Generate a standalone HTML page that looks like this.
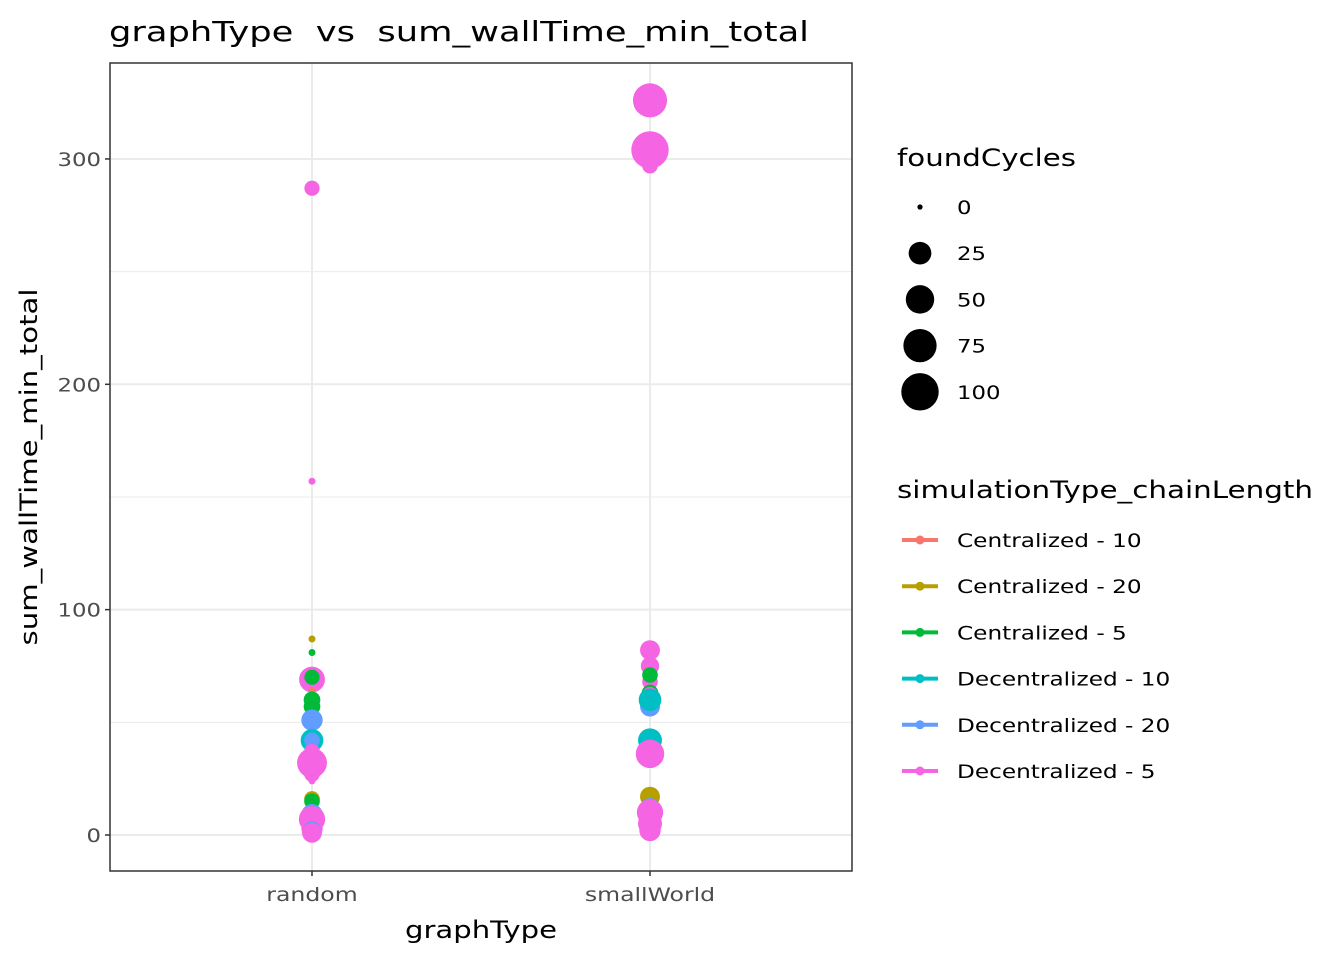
<!DOCTYPE html>
<html><head><meta charset="utf-8"><style>
body{margin:0;background:#fff;}
svg{display:block;font-family:"DejaVu Sans","Liberation Sans",sans-serif;}
text{white-space:pre;}
</style></head><body>
<svg id="chart" width="1344" height="960">
<rect width="1344" height="960" fill="#fff"/>
<text x="109" y="41" font-size="28" fill="#000" textLength="700" lengthAdjust="spacingAndGlyphs" xml:space="preserve">graphType  vs  sum_wallTime_min_total</text>
<g id="grid"></g>
<g id="points"></g>
<rect x="110" y="63" width="742" height="808" fill="none" stroke="#333" stroke-width="1.5"/>
<g id="axes"></g>
<text x="481" y="938" font-size="24" text-anchor="middle" textLength="152" lengthAdjust="spacingAndGlyphs">graphType</text>
<text transform="translate(37,467) rotate(-90)" font-size="24" text-anchor="middle" textLength="357" lengthAdjust="spacingAndGlyphs">sum_wallTime_min_total</text>
<g id="legend"></g>
</svg>
<script>
const categories=["random","smallWorld"];
const seriesNames=["Centralized - 10","Centralized - 20","Centralized - 5","Decentralized - 10","Decentralized - 20","Decentralized - 5"];
const seriesColors=["#F8766D","#B79F00","#00BA38","#00BFC4","#619CFF","#F564E3"];
const yTicks=[0,100,200,300];
const sizeBreaks=[0,25,50,75,100];
// points: category index, series index, value, foundCycles
const ptCategory=[0,0,0,0,0,0,0,0,0,0,0,0,0,0,0,0,0,0,0,0,0,0,0,0, 1,1,1,1,1,1,1,1,1,1,1,1,1,1,1,1,1,1,1];
const ptSeries=[5,5,1,2,5,2,0,2,2,4,3,4,5,5,5,5,1,2,4,2,5,5,4,5, 5,5,5,5,5,5,2,2,5,4,2,3,3,5,1,4,5,5,5];
const ptValue=[287,157,87,81,69,70,64,60,57,51,42,42,37,32,27,24,16,15,9,9,7,3,2,1, 326,304,297,82,75,68,71,63,62,57,60,60,42,36,17,12,10,5,2];
const ptCycles=[1,0,0,0,38,1,0,5,5,20,25,2,2,57,2,0,2,2,20,5,40,20,10,15, 80,100,2,15,10,2,2,5,5,15,5,25,30,50,15,15,40,30,20];

const NS="http://www.w3.org/2000/svg";
const X0=110,X1=852,Y0=63,Y1=871;
function xScale(i){return 312+i*338;}
function yScale(v){return 835-v*2.2535;}
function rScale(c){return c<=0?3.5:Math.sqrt(55+2.95*c);}
function mk(tag,attrs,parent){const e=document.createElementNS(NS,tag);for(const k in attrs)e.setAttribute(k,attrs[k]);parent.appendChild(e);return e;}
function stretch(el,ratio){const w=el.getComputedTextLength();el.setAttribute('textLength',(w*ratio).toFixed(1));el.setAttribute('lengthAdjust','spacingAndGlyphs');}
const grid=document.getElementById('grid'),axes=document.getElementById('axes'),pts=document.getElementById('points'),leg=document.getElementById('legend');
for(let i=0;i<yTicks.length;i++){
  const y=yScale(yTicks[i]);
  const l=mk('line',{x1:X0,x2:X1,y1:y,y2:y,stroke:'#ebebeb','stroke-width':2},grid);
  
  
  if(i<yTicks.length-1){const ym=yScale((yTicks[i]+yTicks[i+1])/2);
    const m=mk('line',{x1:X0,x2:X1,y1:ym,y2:ym,stroke:'#ebebeb','stroke-width':1},grid);
    
    }
  const t=mk('line',{x1:X0-5,x2:X0,y1:y,y2:y,stroke:'#333','stroke-width':1.5},axes);
  
  
  const tx=mk('text',{x:X0-9,y:y+7,'font-size':19,'text-anchor':'end',fill:'#4d4d4d'},axes);tx.textContent=yTicks[i];
  
  
  stretch(tx,1.2);
}
for(let i=0;i<categories.length;i++){
  const x=xScale(i);
  const l=mk('line',{x1:x,x2:x,y1:Y0,y2:Y1,stroke:'#ebebeb','stroke-width':2},grid);
  
  
  const t=mk('line',{x1:x,x2:x,y1:Y1,y2:Y1+5,stroke:'#333','stroke-width':1.5},axes);
  
  
  const tx=mk('text',{x:x,y:Y1+30,'font-size':19,'text-anchor':'middle',fill:'#4d4d4d'},axes);tx.textContent=categories[i];
  
  
  stretch(tx,1.24);
}
for(let i=0;i<ptValue.length;i++){
  const c=mk('circle',{cx:xScale(ptCategory[i]),cy:yScale(ptValue[i]),r:rScale(ptCycles[i]),fill:seriesColors[ptSeries[i]]},pts);
  
  
}
// legend
let t=mk('text',{x:897,y:166,'font-size':24},leg);t.textContent='foundCycles';


t.setAttribute('textLength','179');t.setAttribute('lengthAdjust','spacingAndGlyphs');
for(let i=0;i<sizeBreaks.length;i++){
  const y=207+i*46.2;
  const c=mk('circle',{cx:920,cy:y,r:rScale(sizeBreaks[i])*(sizeBreaks[i]?1:0.75),fill:'#000'},leg);
  
  
  const tx=mk('text',{x:957,y:y+7,'font-size':19},leg);tx.textContent=sizeBreaks[i];
  
  
  stretch(tx,1.2);
}
t=mk('text',{x:897,y:498,'font-size':24},leg);t.textContent='simulationType_chainLength';


t.setAttribute('textLength','416');t.setAttribute('lengthAdjust','spacingAndGlyphs');
for(let i=0;i<seriesNames.length;i++){
  const y=540+i*46.2;
  const l=mk('line',{x1:902,x2:938,y1:y,y2:y,stroke:seriesColors[i],'stroke-width':4},leg);
  
  
  const c=mk('circle',{cx:920,cy:y,r:4.5,fill:seriesColors[i]},leg);
  
  
  const tx=mk('text',{x:957,y:y+7,'font-size':19},leg);tx.textContent=seriesNames[i];
  
  
  stretch(tx,1.22);
}
</script>
</body></html>
